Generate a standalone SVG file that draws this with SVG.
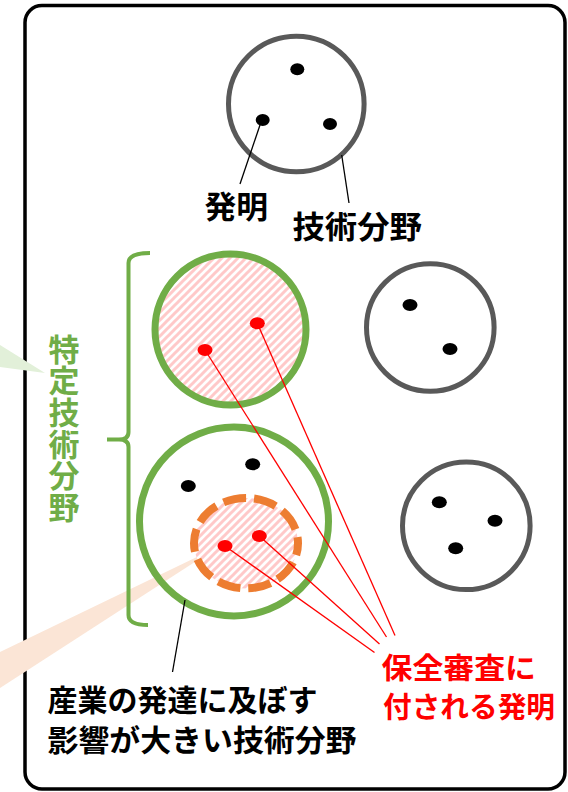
<svg xmlns="http://www.w3.org/2000/svg" width="568" height="792" viewBox="0 0 568 792">
<style>
.frame{fill:#FFFFFF;stroke:#000000;stroke-width:3.5}
.gray{fill:#FFFFFF;stroke:#595959;stroke-width:5}
.green{fill:none;stroke:#70AD47;stroke-width:7}
.dot{fill:#000000}
.rdot{fill:#FF0000}
.lead{stroke:#000000;stroke-width:1.3;fill:none}
.rlead{stroke:#FF0000;stroke-width:1.3;fill:none}
.t{font-family:"Noto Sans CJK JP","Noto Sans",sans-serif;font-weight:bold}
</style>
<defs>
<pattern id="hatch" patternUnits="userSpaceOnUse" width="8" height="8">
<rect width="8" height="8" fill="#FFFFFF"/>
<path d="M-2,2 L2,-2 M0,8 L8,0 M6,10 L10,6" stroke="#FFC9C9" stroke-width="3"/>
</pattern>
</defs>
<rect class="frame" x="25" y="5.5" width="540" height="783.5" rx="17"/>
<g id="callouts">
<polygon points="0,345 45,373 0,367" fill="#E2F0D9"/>
<polygon points="0,652 201,555 201,558 0,688" fill="#FBE5D6"/>
</g>
<g id="legend-circle">
<circle class="gray" cx="296.3" cy="104" r="67.8"/>
<ellipse class="dot" cx="297.3" cy="69.3" rx="7" ry="6"/>
<ellipse class="dot" cx="262.7" cy="120" rx="7" ry="6"/>
<ellipse class="dot" cx="330" cy="124" rx="7" ry="6"/>
</g>
<g id="field-green-1">
<circle cx="230.5" cy="329.5" r="75.5" fill="url(#hatch)" stroke="#70AD47" stroke-width="7"/>
<ellipse class="rdot" cx="257.3" cy="323.3" rx="7.5" ry="6"/>
<ellipse class="rdot" cx="205" cy="350" rx="7.5" ry="6"/>
</g>
<g id="field-green-2">
<circle class="green" cx="234" cy="521.5" r="94.5" fill="#FFFFFF"/>
<ellipse class="dot" cx="188.3" cy="486" rx="7.5" ry="6"/>
<ellipse class="dot" cx="252.7" cy="464.3" rx="7.5" ry="6"/>
<ellipse cx="246" cy="543.2" rx="52" ry="45.2" fill="url(#hatch)" stroke="#ED7D31" stroke-width="8" stroke-dasharray="23 8" stroke-dashoffset="11"/>
<ellipse class="rdot" cx="225" cy="546" rx="7.5" ry="6"/>
<ellipse class="rdot" cx="259.3" cy="536" rx="7.5" ry="6"/>
</g>
<g id="field-gray-1">
<circle class="gray" cx="430.3" cy="327.5" r="63.8"/>
<ellipse class="dot" cx="410" cy="305" rx="7.5" ry="6"/>
<ellipse class="dot" cx="450" cy="349" rx="7.5" ry="6"/>
</g>
<g id="field-gray-2">
<circle class="gray" cx="466.3" cy="525.8" r="63.8"/>
<ellipse class="dot" cx="439.3" cy="502.3" rx="7.5" ry="6"/>
<ellipse class="dot" cx="495" cy="520.7" rx="7.5" ry="6"/>
<ellipse class="dot" cx="455.7" cy="548.3" rx="7.5" ry="6"/>
</g>
<g id="bracket">
<path d="M150,253 Q128.5,253 128.5,263 L128.5,432 Q128.5,439.5 119,439.5 L107,439.5 M119,439.5 Q128.5,439.5 128.5,447 L128.5,615 Q128.5,625 148,625" fill="none" stroke="#70AD47" stroke-width="4"/>
</g>
<g id="connectors">
<line class="lead" x1="260" y1="125" x2="240" y2="184"/>
<line class="lead" x1="341.7" y1="155" x2="349" y2="203"/>
<line class="lead" x1="185" y1="600" x2="172.5" y2="672"/>
<line class="rlead" x1="225" y1="546" x2="374.5" y2="652.5"/>
<line class="rlead" x1="259.3" y1="536" x2="379.5" y2="644"/>
<line class="rlead" x1="205" y1="350" x2="386.5" y2="637"/>
<line class="rlead" x1="257.3" y1="323.3" x2="395" y2="635.5"/>
</g>
<g id="labels">
<text class="t" x="204.5" y="217.5" font-size="31" fill="#000000" textLength="63.5" lengthAdjust="spacingAndGlyphs">発明</text>
<text class="t" x="292.5" y="237.5" font-size="31" fill="#000000" textLength="129.5" lengthAdjust="spacingAndGlyphs">技術分野</text>
<text class="t" x="64" y="333.5" font-size="31" fill="#70AD47" writing-mode="vertical-rl" letter-spacing="0.6">特定技術分野</text>
<text class="t" x="47.5" y="711" font-size="30" fill="#000000" textLength="270" lengthAdjust="spacingAndGlyphs">産業の発達に及ぼす</text>
<text class="t" x="47.5" y="751" font-size="30" fill="#000000" textLength="309" lengthAdjust="spacingAndGlyphs">影響が大きい技術分野</text>
<text class="t" x="381.5" y="679" font-size="29" fill="#FF0000" textLength="154.5" lengthAdjust="spacingAndGlyphs">保全審査に</text>
<text class="t" x="383" y="717.5" font-size="29" fill="#FF0000" textLength="172" lengthAdjust="spacingAndGlyphs">付される発明</text>
</g>
</svg>
